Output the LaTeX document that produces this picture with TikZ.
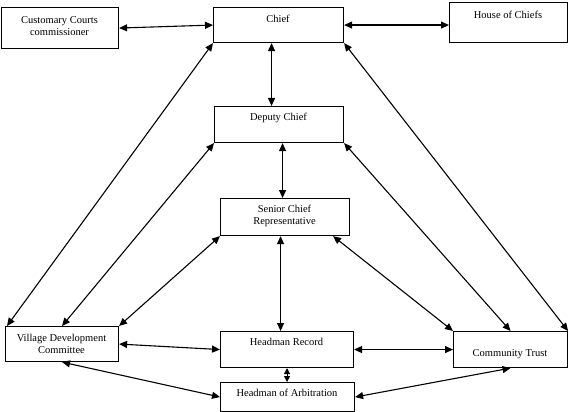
\documentclass[tikz,border=0pt]{standalone}
\usepackage{fontspec}
\setmainfont{Liberation Serif}
\usetikzlibrary{arrows.meta,calc}
\begin{document}
\begin{tikzpicture}[x=1pt,y=-1pt,
  box/.style={draw,line width=1.1pt,inner sep=0pt,anchor=north west},
  lbl/.style={font=\fontsize{10.5}{12.5}\selectfont,align=center,inner sep=0pt},
  link/.style={line width=1.1pt,{Triangle[length=8pt,width=7pt]}-{Triangle[length=8pt,width=7pt]}}]
\useasboundingbox (0,0) rectangle (568,412);
% boxes
\node[box,minimum width=117pt,minimum height=41pt] (ccc) at (1,7) {};
\node[box,minimum width=130pt,minimum height=35pt] (chief) at (213,7) {};
\node[box,minimum width=118pt,minimum height=40pt] (house) at (449,2) {};
\node[box,minimum width=129pt,minimum height=36pt] (dep) at (214,106) {};
\node[box,minimum width=129pt,minimum height=37pt] (scr) at (220,198) {};
\node[box,minimum width=113pt,minimum height=35pt] (vdc) at (5,326) {};
\node[box,minimum width=133pt,minimum height=36pt] (hr) at (220,331) {};
\node[box,minimum width=114pt,minimum height=36pt] (ct) at (453,331) {};
\node[box,minimum width=134pt,minimum height=29pt] (arb) at (220,382) {};
% labels
\node[lbl] (cccT) at (59.5,26) {Customary Courts\\commissioner};
\node[lbl] (chiefT) at (278,19) {Chief};
\node[lbl] (houseT) at (508,15) {House of Chiefs};
\node[lbl] (depT) at (278.5,118) {Deputy Chief};
\node[lbl] (scrT) at (284.5,216) {Senior Chief\\Representative};
\node[lbl] (vdcT) at (61.5,344) {Village Development\\Committee};
\node[lbl] (hrT) at (286.5,342) {Headman Record};
\node[lbl] (ctT) at (510,354) {Community Trust};
\node[lbl] (arbT) at (287,393) {Headman of Arbitration};
% connectors
\draw[link] (ccc.east) -- (chief.west);
\draw[link] (chief.east) -- (house.west |- chief.west);
\draw[link] ([xshift=-7pt]chief.south) -- ([xshift=-7.5pt]dep.north);
\draw[link] ([xshift=3.5pt]dep.south) -- ([xshift=-2.5pt]scr.north);
\draw[link] ([xshift=-4.5pt]scr.south) -- ([xshift=-6.5pt]hr.north);
\draw[line width=1.1pt,{Triangle[length=6pt,width=6pt]}-{Triangle[length=6pt,width=6pt]}] (hr.south) -- (arb.north -| hr.south);
\draw[link] (vdc.east) -- (hr.west);
\draw[link] (hr.east) -- (ct.west);
\draw[link] (vdc.south) -- (arb.west);
\draw[link] (arb.east) -- (ct.south);
\draw[link] (chief.south west) -- ([xshift=2pt]vdc.north west);
\draw[link] (chief.south east) -- (ct.north east);
\draw[link] (dep.south west) -- (vdc.north);
\draw[link] (dep.south east) -- (ct.north);
\draw[link] (scr.south west) -- (vdc.north east);
\draw[link] ([xshift=-17pt]scr.south east) -- (ct.north west);
\end{tikzpicture}
\end{document}
